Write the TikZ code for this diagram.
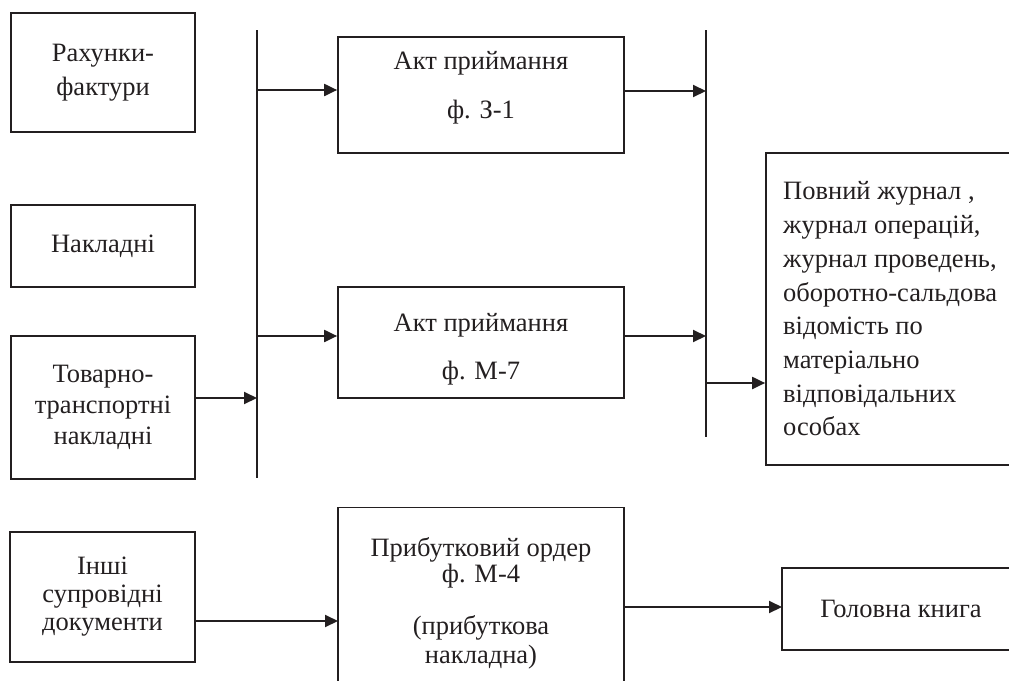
\documentclass[tikz,border=0pt]{standalone}
\usepackage{fontspec}
\setmainfont{Liberation Serif}
\usetikzlibrary{arrows.meta}
\definecolor{ink}{HTML}{231F20}
\begin{document}
\begin{tikzpicture}[x=1pt,y=-1pt,
  box/.style={draw=ink, line width=1.7pt, inner sep=0pt, text=ink, align=center, font=\fontsize{26.5}{34}\selectfont},
  lbl/.style={text=ink, inner sep=0pt, align=center, font=\fontsize{26.5}{34}\selectfont},
  bus/.style={draw=ink, line width=2pt},
  arr/.style={draw=ink, line width=2pt, -{Triangle[length=13pt,width=12pt]}}]
\useasboundingbox (0,0) rectangle (1009,680);
\clip (0,0) rectangle (1009,680);
% left column
\node[box, minimum width=184, minimum height=119] (r1) at (103,72.5) {Рахунки-\\фактури};
\node[box, minimum width=184, minimum height=82] (r2) at (103,246) {Накладні};
\node[box, minimum width=184, minimum height=143, font=\fontsize{26.5}{31}\selectfont] (r3) at (103,407.5) {Товарно-\\транспортні\\накладні};
% bus 1
\coordinate (b1t) at (257,30);
\coordinate (b1b) at (257,478);
\coordinate (j1) at (257,90);
\coordinate (j2) at (257,336);
\coordinate (j3) at (257,398);
\draw[bus] (b1t) -- (b1b);
% act boxes
\node[box, minimum width=286, minimum height=116] (a1) at (481,95) {};
\node[lbl] (a1t) at (481,63) {Акт приймання};
\node[lbl] (a1f) at (481,112) {ф. З-1};
\node[box, minimum width=286, minimum height=111] (a2) at (481,342.5) {};
\node[lbl] (a2t) at (481,325) {Акт приймання};
\node[lbl] (a2f) at (481,373) {ф. М-7};
% bus 2
\coordinate (b2t) at (706,30);
\coordinate (b2b) at (706,437);
\coordinate (k1) at (706,91);
\coordinate (k2) at (706,336);
\coordinate (k3) at (706,383);
\draw[bus] (b2t) -- (b2b);
% big box
\node[box, minimum width=254, minimum height=312] (big) at (893,309) {};
\node[lbl, anchor=west, align=left, font=\fontsize{26.5}{33.7}\selectfont] (bigt) at (783,309) {Повний журнал ,\\журнал операцій,\\журнал проведень,\\оборотно-сальдова\\відомість по\\матеріально\\відповідальних\\особах};
% connectors top part
\draw[arr] (r3.east |- j3) -- (j3);
\draw[arr] (j1) -- (j1 -| a1.west);
\draw[arr] (j2) -- (j2 -| a2.west);
\draw[arr] (a1.east |- k1) -- (k1);
\draw[arr] (a2.east |- k2) -- (k2);
\draw[arr] (k3) -- (k3 -| big.west);
% bottom row
\node[box, minimum width=185, minimum height=130, font=\fontsize{26.5}{28}\selectfont] (i1) at (102.5,597) {Інші\\супровідні\\документи};
\node[box, minimum width=286, minimum height=192.5] (p1) at (481,603.75) {};
\node[lbl] (p1a) at (481,550) {Прибутковий ордер};
\node[lbl] (p1b) at (481,576) {ф. М-4};
\node[lbl] (p1c) at (481,628) {(прибуткова};
\node[lbl] (p1d) at (481,657) {накладна)};
\node[box, minimum width=238, minimum height=82] (g1) at (901,609) {Головна книга};
\coordinate (m1) at (338,621);
\coordinate (m2) at (782,607);
\draw[arr] (i1.east |- m1) -- (m1);
\draw[arr] (p1.east |- m2) -- (m2);
\end{tikzpicture}
\end{document}
